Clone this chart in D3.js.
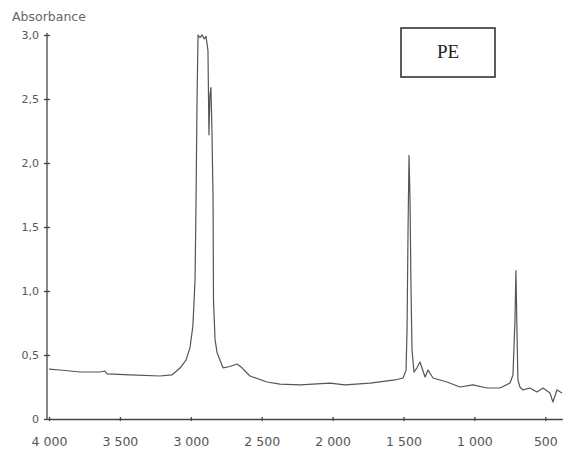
<!DOCTYPE html>
<html lang="en">
<head>
<meta charset="UTF-8"/>
<title>IR spectrum PE</title>
<script src="https://d3js.org/d3.v7.min.js"></script>
<style>
body { margin: 0; background: #fff; }
svg { display: block; }
.axis path, .axis line { stroke: #444; stroke-width: 1.3; }
.axis text { fill: #555; font-family: "DejaVu Sans", sans-serif; }
.spectrum { fill: none; stroke: #555; stroke-width: 1.2; stroke-linejoin: round; }
.ylabel { fill: #666; font-family: "DejaVu Sans", sans-serif; font-size: 12.5px; }
.tag rect { fill: #fff; stroke: #333; stroke-width: 1.6; }
.tag text { fill: #222; font-family: "Liberation Serif", serif; font-size: 19px; }
</style>
</head>
<body>
<svg width="564" height="459"></svg>
<script>
// spectrum (wavenumber cm-1, absorbance)
const wavenumber = [4000, 3922, 3781, 3640, 3605, 3591, 3429, 3217, 3133, 3076, 3034, 3006, 2985, 2970,
  2963, 2956, 2949, 2935, 2920, 2905, 2893, 2879, 2872, 2865, 2858, 2851, 2843, 2840, 2829, 2815,
  2773, 2724, 2674, 2639, 2583, 2463, 2371, 2230, 2018, 1913, 1736, 1560, 1503, 1482, 1475, 1468,
  1461, 1454, 1447, 1440, 1426, 1405, 1384, 1370, 1348, 1327, 1292, 1193, 1102, 1010, 911, 820,
  749, 728, 714, 707, 700, 693, 679, 657, 608, 559, 516, 467, 446, 418, 382];
const absorbance = [0.39, 0.383, 0.367, 0.367, 0.375, 0.352, 0.344, 0.336, 0.344, 0.398, 0.46, 0.555, 0.73, 1.09,
  1.71, 2.49, 3.0, 2.98, 3.0, 2.97, 2.99, 2.88, 2.22, 2.53, 2.59, 2.26, 1.71, 0.93, 0.62, 0.52,
  0.40, 0.41, 0.43, 0.40, 0.336, 0.289, 0.273, 0.266, 0.281, 0.266, 0.281, 0.305, 0.32, 0.38, 0.70, 1.48,
  2.06, 1.71, 1.01, 0.54, 0.367, 0.40, 0.445, 0.40, 0.328, 0.383, 0.32, 0.289, 0.25, 0.266, 0.242, 0.242,
  0.281, 0.344, 0.77, 1.16, 0.70, 0.305, 0.25, 0.227, 0.242, 0.211, 0.242, 0.203, 0.133, 0.227, 0.203];

const xTicks = [4000, 3500, 3000, 2500, 2000, 1500, 1000, 500];
const yTicks = [0, 0.5, 1.0, 1.5, 2.0, 2.5, 3.0];

const svg = d3.select('svg');

// 4000 -> 49px, 500 -> 545px, axis runs on to ~380
const x = d3.scaleLinear().domain([4000, 380]).range([49, 49 + 3620 / 500 * 70.9]);
const y = d3.scaleLinear().domain([0, 3.0]).range([419, 35]);

const xFmt = d => d >= 1000 ? Math.floor(d / 1000) + '\u00a0' + String(d % 1000).padStart(3, '0') : String(d);
const yFmt = d => d === 0 ? '0' : d.toFixed(1).replace('.', ',');

const xAxis = svg.append('g')
  .attr('class', 'axis')
  .attr('transform', `translate(0, ${y(0)})`)
  .call(d3.axisBottom(x).tickValues(xTicks).tickFormat(xFmt).tickSize(3).tickSizeOuter(0));
xAxis.selectAll('.tick line').attr('y1', -2).attr('y2', 2);
xAxis.selectAll('text').attr('font-size', '12.5px').attr('y', 18);

const yAxis = svg.append('g')
  .attr('class', 'axis')
  .attr('transform', `translate(${x(4000) - 2}, 0)`)
  .call(d3.axisLeft(y).tickValues(yTicks).tickFormat(yFmt).tickSize(3).tickSizeOuter(0));
yAxis.selectAll('.tick line').attr('x1', -3).attr('x2', 3);
yAxis.selectAll('text').attr('font-size', '11px').attr('x', -8);
yAxis.select('.domain').attr('d', `M0,${y(0)}V${y(3.0) - 2}`);

const line = d3.line()
  .x((d, i) => x(wavenumber[i]))
  .y(d => y(d));

svg.append('path')
  .attr('class', 'spectrum')
  .attr('d', line(absorbance));

svg.append('text')
  .attr('class', 'ylabel')
  .attr('x', 12)
  .attr('y', 21)
  .text('Absorbance');

const tag = svg.append('g').attr('class', 'tag');
tag.append('rect')
  .attr('x', 401).attr('y', 28)
  .attr('width', 94).attr('height', 49);
tag.append('text')
  .attr('x', 448).attr('y', 58)
  .attr('text-anchor', 'middle')
  .text('PE');
</script>
</body>
</html>
